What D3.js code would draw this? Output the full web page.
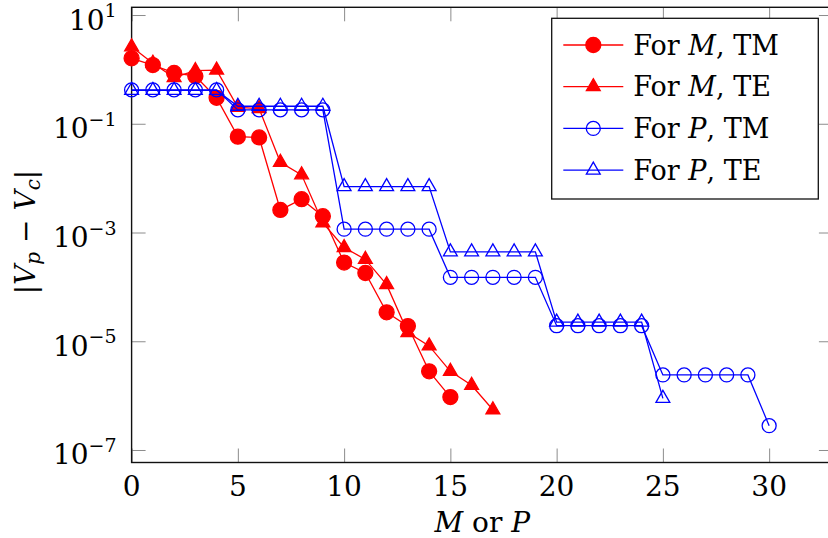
<!DOCTYPE html>
<html>
<head>
<meta charset="utf-8">
<script src="https://cdn.jsdelivr.net/npm/d3@7"></script>
<style>
  body { margin: 0; background: #fff; }
  svg { display: block; }
  text { font-family: "DejaVu Serif", "Liberation Serif", serif; }
  .tick line { stroke: #8c8c8c; stroke-width: 1; }
  .domain { display: none; }
</style>
</head>
<body>
<svg width="828" height="538"></svg>
<script>
// values, x = 0, 1, 2, ...
var mTM = [1.6, 1.2, 0.86, 0.75, 0.30, 0.058, 0.056, 0.0026, 0.0041, 0.0020,
           2.8e-4, 1.8e-4, 3.4e-5, 1.9e-5, 2.8e-6, 9.4e-7]
var mTE = [2.6, 1.3, 0.71, 0.95, 0.97, 0.2, 0.19, 0.0196, 0.0115, 0.0015,
           5.3e-4, 3.2e-4, 1.1e-4, 1.45e-5, 8.2e-6, 2.8e-6, 1.55e-6, 5.5e-7]
var pTM = [0.42, 0.42, 0.42, 0.42, 0.42, 0.18, 0.18, 0.18, 0.18, 0.18,
           1.15e-3, 1.15e-3, 1.15e-3, 1.15e-3, 1.15e-3, 1.5e-4, 1.5e-4, 1.5e-4, 1.5e-4, 1.5e-4,
           1.93e-5, 1.93e-5, 1.93e-5, 1.93e-5, 1.93e-5, 2.4e-6, 2.4e-6, 2.4e-6, 2.4e-6, 2.4e-6,
           2.8e-7]
var pTE = [0.41, 0.41, 0.41, 0.41, 0.41, 0.21, 0.21, 0.21, 0.21, 0.21,
           7.0e-3, 7.0e-3, 7.0e-3, 7.0e-3, 7.0e-3, 4.4e-4, 4.4e-4, 4.4e-4, 4.4e-4, 4.4e-4,
           2.25e-5, 2.25e-5, 2.25e-5, 2.25e-5, 2.25e-5, 8.9e-7]
var names = ["M", "M", "P", "P"]
var kinds = ["TM", "TE", "TM", "TE"]
var xTicks = [0, 5, 10, 15, 20, 25, 30]
var yExps = [1, -1, -3, -5, -7]

var font = "'DejaVu Serif', 'Liberation Serif', serif"

var svg = d3.select("svg").attr("font-family", font),
    margin = {top: 7.3, left: 131.6},
    width = 701.3,
    height = 455.2,
    g = svg.append("g").attr("transform", "translate(" + margin.left + "," + margin.top + ")");

var x = d3.scaleLinear().domain([0, 33]).range([0, width]);
var y = d3.scaleLog().domain([Math.pow(10, -7.23), Math.pow(10, 1.142)]).range([height, 0]);
var yTicks = yExps.map(function(e) { return Math.pow(10, e) });

// inward ticks on all four sides
g.append("g").attr("transform", "translate(0," + height + ")")
    .call(d3.axisBottom(x).tickValues(xTicks).tickSize(-14).tickFormat(""));
g.append("g")
    .call(d3.axisTop(x).tickValues(xTicks).tickSize(-14).tickFormat(""));
g.append("g")
    .call(d3.axisLeft(y).tickValues(yTicks).tickSize(-14).tickFormat(""));
g.append("g").attr("transform", "translate(" + width + ",0)")
    .call(d3.axisRight(y).tickValues(yTicks).tickSize(-14).tickFormat(""));

g.append("rect")
    .attr("width", width).attr("height", height)
    .attr("fill", "none").attr("stroke", "#111").attr("stroke-width", 1.4);

// tick labels
g.selectAll(".xl").data(xTicks).enter().append("text")
    .attr("font-family", font)
    .attr("x", function(d) { return x(d) })
    .attr("y", height + 33.5)
    .attr("text-anchor", "middle")
    .style("font-size", "28px")
    .text(function(d) { return d });

var yl = g.selectAll(".yl").data(yExps).enter().append("text")
    .attr("font-family", font)
    .attr("x", -15)
    .attr("y", function(d) { return y(Math.pow(10, d)) + 14.5 })
    .attr("text-anchor", "end")
    .style("font-size", "28px");
yl.append("tspan").text("10");
yl.append("tspan").attr("dy", -12.5).style("font-size", "19px")
    .text(function(d) { return d < 0 ? "\u2212" + (-d) : d });

// axis titles
var xt = svg.append("text")
    .attr("font-family", font)
    .attr("x", margin.left + width / 2).attr("y", 532)
    .attr("text-anchor", "middle").style("font-size", "28px");
xt.append("tspan").style("font-style", "italic").text("M");
xt.append("tspan").text(" or ");
xt.append("tspan").style("font-style", "italic").text("P");

var yt = svg.append("text")
    .attr("font-family", font)
    .attr("transform", "translate(35,232) rotate(-90)")
    .attr("text-anchor", "middle").style("font-size", "28px");
yt.append("tspan").text("|");
yt.append("tspan").style("font-style", "italic").text("V");
yt.append("tspan").style("font-style", "italic").style("font-size", "20px").attr("dy", 5).text("p");
yt.append("tspan").attr("dy", -5).text(" \u2212 ");
yt.append("tspan").style("font-style", "italic").text("V");
yt.append("tspan").style("font-style", "italic").style("font-size", "20px").attr("dy", 5).text("c");
yt.append("tspan").attr("dy", -5).text("|");

// series
var series = [
  {data: mTM, color: "#ff0000", mark: "circle", fill: true},
  {data: mTE, color: "#ff0000", mark: "triangle", fill: true},
  {data: pTM, color: "#0000ff", mark: "circle", fill: false},
  {data: pTE, color: "#0000ff", mark: "triangle", fill: false}
];

var line = d3.line()
    .x(function(d, i) { return x(i) })
    .y(function(d) { return y(d) });

function marker(sel, s) {
  if (s.mark == "circle")
    sel.append("circle").attr("r", s.fill ? 7.5 : 7);
  else
    sel.append("path").attr("d", "M0,-8L6.93,4L-6.93,4Z");
  sel.selectAll("circle,path")
    .attr("fill", s.fill ? s.color : "none")
    .attr("stroke", s.color)
    .attr("stroke-width", 1.3);
}

for (var i = 0; i < series.length; i++) {
  var s = series[i];
  g.append("path")
    .attr("fill", "none")
    .attr("stroke", s.color)
    .attr("stroke-width", 1.3)
    .attr("d", line(s.data));
  g.selectAll(".m" + i).data(s.data).enter().append("g")
    .attr("transform", function(d, j) { return "translate(" + x(j) + "," + y(d) + ")" })
    .each(function() { marker(d3.select(this), s) });
}

// legend
var lg = svg.append("g").attr("transform", "translate(551.7,18.3)");
lg.append("rect").attr("width", 266.6).attr("height", 180.7)
    .attr("fill", "#fff").attr("stroke", "#111").attr("stroke-width", 1.3);
for (var k = 0; k < series.length; k++) {
  var row = lg.append("g").attr("transform", "translate(0," + (26.7 + k * 41.7) + ")");
  row.append("line").attr("x1", 11.6).attr("x2", 71.6)
    .attr("stroke", series[k].color).attr("stroke-width", 1.3);
  var mk = row.append("g").attr("transform", "translate(41.6,0)");
  marker(mk, series[k]);
  var t = row.append("text").attr("font-family", font)
    .attr("x", 81.6).attr("y", 9.6).style("font-size", "27px");
  t.append("tspan").text("For ");
  t.append("tspan").style("font-style", "italic").text(names[k]);
  t.append("tspan").text(", " + kinds[k]);
}
</script>
</body>
</html>
